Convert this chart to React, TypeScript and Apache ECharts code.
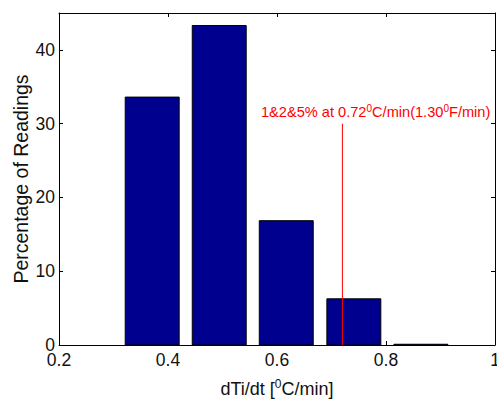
import React, { useEffect, useRef } from "react";
import * as echarts from "echarts";

const binCenters = [0.371, 0.494, 0.617, 0.741, 0.864];
const percentages = [33.6, 43.3, 16.85, 6.26, 0.1];
const barWidthData = 0.099;
const markerX = 0.72;
const markerTop = 30;
const xTicks = { min: 0.2, max: 1, interval: 0.2 };
const yTicks = { min: 0, max: 45, interval: 10 };
const annotation = ["1&2&5% at 0.72", "0", "C/min(1.30", "0", "F/min)"];

const FONT = '"Liberation Sans", Arial, Helvetica, sans-serif';
const TXT = "#111111";

export default function App() {
  const ref = useRef<HTMLDivElement>(null);
  useEffect(() => {
    if (!ref.current) return;
    const chart = echarts.init(ref.current, undefined, { renderer: "svg" });
    const fmtX = (v: number) => String(Number(v.toFixed(1)));
    const fmtY = (v: number) => (Math.abs(v % 10) < 1e-9 ? String(v) : "");
    const axisLine = { show: true, onZero: false, lineStyle: { color: "#000", width: 1 } };
    const tick = { show: true, inside: true, length: 4, lineStyle: { color: "#000" } };
    chart.setOption({
      animation: false,
      textStyle: { fontFamily: FONT },
      grid: { left: 59, right: 2, top: 13, bottom: 54, containLabel: false, outerBoundsMode: "none" },
      xAxis: [
        {
          type: "value",
          position: "bottom",
          ...xTicks,
          axisLine,
          axisTick: tick,
          splitLine: { show: false },
          axisLabel: { formatter: fmtX, fontSize: 17.5, color: TXT, fontFamily: FONT, margin: 6 },
          name: "{n|dTi/dt [}{s|0}{n|C/min]}",
          nameLocation: "middle",
          nameGap: 33,
          nameMoveOverlap: false,
          nameTextStyle: {
            rich: {
              n: { fontSize: 18, color: TXT, fontFamily: FONT },
              s: { fontSize: 12, color: TXT, fontFamily: FONT, padding: [0, 0, 9, 0] },
            },
          },
        },
        {
          type: "value",
          position: "top",
          ...xTicks,
          axisLine,
          axisTick: tick,
          splitLine: { show: false },
          axisLabel: { show: false },
        },
      ],
      yAxis: [
        {
          type: "value",
          position: "left",
          ...yTicks,
          axisLine,
          axisTick: tick,
          splitLine: { show: false },
          axisLabel: { formatter: fmtY, fontSize: 17.5, color: TXT, fontFamily: FONT, margin: 4 },
          name: "Percentage of Readings",
          nameLocation: "middle",
          nameGap: 28,
          nameMoveOverlap: false,
          nameRotate: 90,
          nameTextStyle: { fontSize: 19.5, color: TXT, fontFamily: FONT },
        },
        {
          type: "value",
          position: "right",
          ...yTicks,
          axisLine,
          axisTick: tick,
          splitLine: { show: false },
          axisLabel: { show: false },
        },
      ],
      series: [
        {
          type: "custom",
          xAxisIndex: 0,
          yAxisIndex: 0,
          data: binCenters.map((c, i) => [c, percentages[i]]),
          renderItem: (params: any, api: any) => {
            const c = api.value(0);
            const v = api.value(1);
            const p1 = api.coord([c - barWidthData / 2, v]);
            const p2 = api.coord([c + barWidthData / 2, 0]);
            return {
              type: "rect",
              shape: { x: p1[0], y: p1[1], width: p2[0] - p1[0], height: p2[1] - p1[1] },
              style: { fill: "#00008F", stroke: "#000", lineWidth: 1 },
            };
          },
          z: 2,
        },
        {
          type: "line",
          xAxisIndex: 0,
          yAxisIndex: 0,
          data: [
            [markerX, 0],
            [markerX, markerTop],
          ],
          symbol: "none",
          lineStyle: { color: "#FF0000", width: 1 },
          z: 3,
        },
      ],
      graphic: [
        {
          type: "text",
          left: 261,
          top: 103,
          style: {
            text: `{n|${annotation[0]}}{s|${annotation[1]}}{n|${annotation[2]}}{s|${annotation[3]}}{n|${annotation[4]}}`,
            rich: {
              n: { fontSize: 14.6, fill: "#FF0000", fontFamily: FONT },
              s: { fontSize: 10, fill: "#FF0000", fontFamily: FONT, padding: [0, 0, 7, 0] },
            },
          },
          z: 10,
        },
      ],
    });
    return () => chart.dispose();
  }, []);
  return (
    <div
      ref={ref}
      style={{ position: "fixed", left: 0, top: 0, width: 497, height: 399, background: "#fff" }}
    />
  );
}
